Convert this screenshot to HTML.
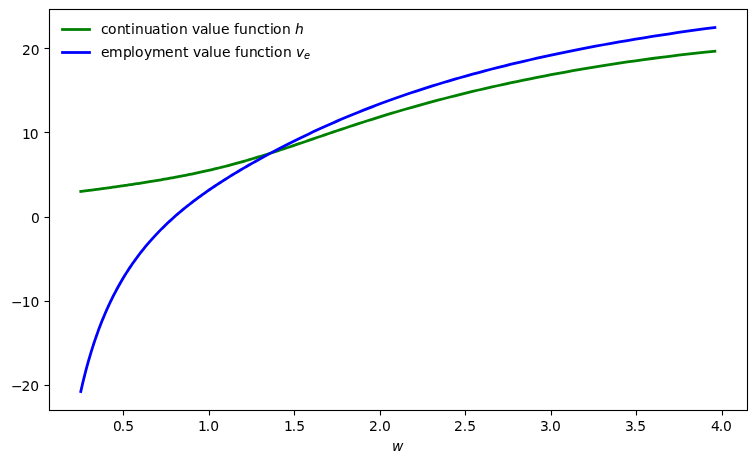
<!DOCTYPE html>
<html lang="en">
<head>
<meta charset="utf-8">
<title>Value functions: continuation h and employment v_e</title>
<style>
html,body{margin:0;padding:0;background:#fff;}
body{width:756px;height:463px;overflow:hidden;}
svg{display:block;will-change:transform;}
text{font-family:"DejaVu Sans","Liberation Sans",sans-serif;font-size:13.889px;fill:#000;stroke:#000;stroke-width:0.05px;}
.it{font-style:italic;}
.tk{stroke:none;}
</style>
</head>
<body>
<svg width="756" height="463" viewBox="0 0 756 463">
<rect x="0" y="0" width="756" height="463" fill="#ffffff"/>
<g fill="none" stroke-width="2.7778" stroke-linecap="square" stroke-linejoin="round">
<polyline stroke="#008000" points="80.77,191.39 81.38,191.32 81.99,191.26 82.60,191.19 83.23,191.12 83.87,191.04 84.51,190.97 85.16,190.89 85.83,190.81 86.50,190.73 87.18,190.65 87.87,190.56 88.57,190.47 89.28,190.39 90.00,190.29 90.73,190.20 91.47,190.10 92.22,190.01 92.98,189.91 93.75,189.81 94.53,189.70 95.33,189.60 96.13,189.49 96.95,189.38 97.77,189.27 98.61,189.16 99.46,189.04 100.32,188.93 101.20,188.81 102.08,188.69 102.98,188.57 103.89,188.44 104.81,188.31 105.75,188.19 106.70,188.05 107.66,187.92 108.64,187.79 109.63,187.65 110.63,187.51 111.65,187.37 112.68,187.22 113.72,187.07 114.78,186.92 115.86,186.77 116.95,186.62 118.06,186.46 119.18,186.30 120.31,186.14 121.46,185.97 122.63,185.80 123.82,185.63 125.02,185.46 126.24,185.28 127.47,185.10 128.72,184.91 129.99,184.72 131.28,184.53 132.58,184.34 133.91,184.14 135.25,183.93 136.61,183.73 137.99,183.52 139.38,183.30 140.80,183.08 142.24,182.86 143.70,182.63 145.18,182.40 146.67,182.16 148.19,181.92 149.73,181.67 151.30,181.41 152.88,181.15 154.48,180.89 156.11,180.62 157.76,180.34 159.44,180.06 161.13,179.77 162.86,179.47 164.60,179.17 166.37,178.86 168.16,178.54 169.98,178.22 171.83,177.89 173.70,177.54 175.59,177.19 177.51,176.83 179.46,176.47 181.44,176.09 183.44,175.70 185.47,175.30 187.53,174.89 189.62,174.47 191.74,174.04 193.89,173.60 196.06,173.14 198.27,172.67 200.51,172.19 202.78,171.69 205.08,171.18 207.41,170.65 209.78,170.11 212.18,169.55 214.61,168.97 217.07,168.38 219.57,167.77 222.11,167.13 224.68,166.48 227.28,165.81 229.93,165.12 232.60,164.41 235.32,163.67 238.08,162.92 240.87,162.14 243.70,161.33 246.57,160.51 249.48,159.65 252.43,158.78 255.42,157.88 258.46,156.95 261.54,156.00 264.65,155.03 267.82,154.03 271.02,153.00 274.28,151.95 277.57,150.88 280.92,149.78 284.31,148.66 287.74,147.51 291.23,146.34 294.76,145.15 298.34,143.93 301.97,142.70 305.66,141.44 309.39,140.17 313.18,138.88 317.01,137.56 320.91,136.24 324.85,134.89 328.85,133.53 332.91,132.16 337.03,130.77 341.20,129.37 345.43,127.96 349.71,126.54 354.06,125.11 358.47,123.68 362.94,122.23 367.47,120.78 372.07,119.32 376.73,117.86 381.45,116.39 386.24,114.92 391.10,113.45 396.02,111.98 401.01,110.50 406.07,109.03 411.21,107.55 416.41,106.07 421.69,104.60 427.04,103.13 432.46,101.66 437.96,100.19 443.54,98.72 449.20,97.26 454.93,95.81 460.74,94.35 466.64,92.90 472.61,91.46 478.67,90.02 484.82,88.59 491.05,87.17 497.36,85.75 503.77,84.34 510.26,82.93 516.85,81.54 523.52,80.15 530.29,78.77 537.15,77.41 544.11,76.05 551.17,74.70 558.32,73.37 565.58,72.04 572.93,70.73 580.39,69.43 587.95,68.15 595.62,66.88 603.39,65.63 611.27,64.40 619.26,63.18 627.36,61.98 635.58,60.80 643.91,59.64 652.36,58.50 660.92,57.39 669.60,56.30 678.41,55.23 687.33,54.18 696.38,53.17 705.56,52.18 714.87,51.22"/>
<polyline stroke="#0000ff" points="80.77,391.52 81.38,388.86 81.99,386.22 82.60,383.60 83.23,380.99 83.87,378.39 84.51,375.82 85.16,373.26 85.83,370.72 86.50,368.19 87.18,365.68 87.87,363.18 88.57,360.70 89.28,358.24 90.00,355.79 90.73,353.36 91.47,350.94 92.22,348.54 92.98,346.15 93.75,343.78 94.53,341.42 95.33,339.08 96.13,336.75 96.95,334.43 97.77,332.13 98.61,329.85 99.46,327.58 100.32,325.32 101.20,323.08 102.08,320.85 102.98,318.63 103.89,316.43 104.81,314.24 105.75,312.07 106.70,309.91 107.66,307.76 108.64,305.62 109.63,303.50 110.63,301.39 111.65,299.30 112.68,297.21 113.72,295.14 114.78,293.08 115.86,291.03 116.95,289.00 118.06,286.97 119.18,284.96 120.31,282.96 121.46,280.97 122.63,279.00 123.82,277.03 125.02,275.07 126.24,273.13 127.47,271.20 128.72,269.28 129.99,267.36 131.28,265.46 132.58,263.57 133.91,261.69 135.25,259.82 136.61,257.96 137.99,256.11 139.38,254.27 140.80,252.43 142.24,250.61 143.70,248.80 145.18,246.99 146.67,245.20 148.19,243.41 149.73,241.63 151.30,239.86 152.88,238.09 154.48,236.34 156.11,234.59 157.76,232.85 159.44,231.12 161.13,229.39 162.86,227.68 164.60,225.96 166.37,224.26 168.16,222.56 169.98,220.87 171.83,219.18 173.70,217.50 175.59,215.83 177.51,214.15 179.46,212.49 181.44,210.83 183.44,209.17 185.47,207.52 187.53,205.87 189.62,204.22 191.74,202.58 193.89,200.94 196.06,199.30 198.27,197.67 200.51,196.03 202.78,194.40 205.08,192.77 207.41,191.14 209.78,189.51 212.18,187.88 214.61,186.25 217.07,184.61 219.57,182.98 222.11,181.34 224.68,179.71 227.28,178.07 229.93,176.42 232.60,174.77 235.32,173.12 238.08,171.47 240.87,169.81 243.70,168.14 246.57,166.47 249.48,164.80 252.43,163.12 255.42,161.43 258.46,159.74 261.54,158.04 264.65,156.33 267.82,154.62 271.02,152.90 274.28,151.18 277.57,149.45 280.92,147.71 284.31,145.97 287.74,144.22 291.23,142.47 294.76,140.71 298.34,138.94 301.97,137.17 305.66,135.40 309.39,133.63 313.18,131.85 317.01,130.06 320.91,128.28 324.85,126.49 328.85,124.70 332.91,122.91 337.03,121.12 341.20,119.33 345.43,117.54 349.71,115.75 354.06,113.96 358.47,112.18 362.94,110.40 367.47,108.62 372.07,106.84 376.73,105.07 381.45,103.30 386.24,101.53 391.10,99.78 396.02,98.02 401.01,96.27 406.07,94.53 411.21,92.79 416.41,91.07 421.69,89.34 427.04,87.63 432.46,85.92 437.96,84.22 443.54,82.52 449.20,80.84 454.93,79.16 460.74,77.49 466.64,75.83 472.61,74.18 478.67,72.54 484.82,70.90 491.05,69.28 497.36,67.66 503.77,66.06 510.26,64.46 516.85,62.88 523.52,61.30 530.29,59.74 537.15,58.19 544.11,56.64 551.17,55.11 558.32,53.59 565.58,52.09 572.93,50.59 580.39,49.11 587.95,47.64 595.62,46.19 603.39,44.75 611.27,43.32 619.26,41.91 627.36,40.51 635.58,39.13 643.91,37.77 652.36,36.42 660.92,35.10 669.60,33.79 678.41,32.49 687.33,31.22 696.38,29.97 705.56,28.73 714.87,27.52"/>
</g>
<g stroke="#000" stroke-width="1.1111" fill="none">
<line x1="123.5" y1="410.5" x2="123.5" y2="415.5"/>
<line x1="209.5" y1="410.5" x2="209.5" y2="415.5"/>
<line x1="294.5" y1="410.5" x2="294.5" y2="415.5"/>
<line x1="380.5" y1="410.5" x2="380.5" y2="415.5"/>
<line x1="465.5" y1="410.5" x2="465.5" y2="415.5"/>
<line x1="551.5" y1="410.5" x2="551.5" y2="415.5"/>
<line x1="636.5" y1="410.5" x2="636.5" y2="415.5"/>
<line x1="722.5" y1="410.5" x2="722.5" y2="415.5"/>
<line x1="44.5" y1="385.5" x2="49.5" y2="385.5"/>
<line x1="44.5" y1="301.5" x2="49.5" y2="301.5"/>
<line x1="44.5" y1="217.5" x2="49.5" y2="217.5"/>
<line x1="44.5" y1="132.5" x2="49.5" y2="132.5"/>
<line x1="44.5" y1="48.5" x2="49.5" y2="48.5"/>
<rect x="49.5" y="9.5" width="698.0" height="401.0" stroke-linejoin="miter"/>
</g>
<text class="tk" x="113.00 120.75 125.25" y="430.75">0.5</text>
<text class="tk" x="198.00 205.75 210.25" y="431.00">1.0</text>
<text class="tk" x="284.00 291.75 296.25" y="431.00">1.5</text>
<text class="tk" x="369.00 377.75 382.00" y="431.00">2.0</text>
<text class="tk" x="454.00 462.75 467.25" y="431.00">2.5</text>
<text class="tk" x="540.00 547.75 552.00" y="431.25">3.0</text>
<text class="tk" x="625.00 632.75 637.25" y="431.25">3.5</text>
<text class="tk" x="711.00 718.75 723.00" y="431.25">4.0</text>
<text class="tk" x="11.00 21.50 30.25" y="391.25">−20</text>
<text class="tk" x="11.00 21.75 30.50" y="307.25">−10</text>
<text class="tk" x="31.00" y="223.00">0</text>
<text class="tk" x="22.00 29.75" y="139.25">10</text>
<text class="tk" x="22.00 30.75" y="55.00">20</text>
<text class="it" style="stroke-width:0.03px" x="392.01" y="450.50">w</text>
<g fill="none" stroke-width="2.7778" stroke-linecap="square">
<line stroke="#008000" x1="62.5" y1="29.5" x2="89.5" y2="29.5"/>
<line stroke="#0000ff" x1="62.5" y1="52.5" x2="89.5" y2="52.5"/>
</g>
<text x="101.00 108.00 117.00 125.00 131.00 135.00 144.00 152.00 161.00 166.00 170.00 179.00 187.00 192.00 200.00 208.00 212.00 221.00 230.00 234.00 239.00 248.00 257.00 264.00 270.00 273.00 282.00 291.00" y="33.83" style="white-space:pre">continuation value function <tspan class="it" x="295.00" y="33.83">h</tspan></text>
<text x="101.00 109.00 123.00 131.00 135.00 144.00 152.00 165.00 174.00 183.00 188.00 193.00 201.00 209.00 213.00 222.00 231.00 235.00 240.00 249.00 257.00 265.00 270.00 274.00 283.00 292.00" y="56.81" style="white-space:pre">employment value function <tspan class="it" x="296.00" y="56.81">v</tspan><tspan class="it" font-size="9.722px" x="304.00" y="59.11">e</tspan></text>
</svg>
</body>
</html>
